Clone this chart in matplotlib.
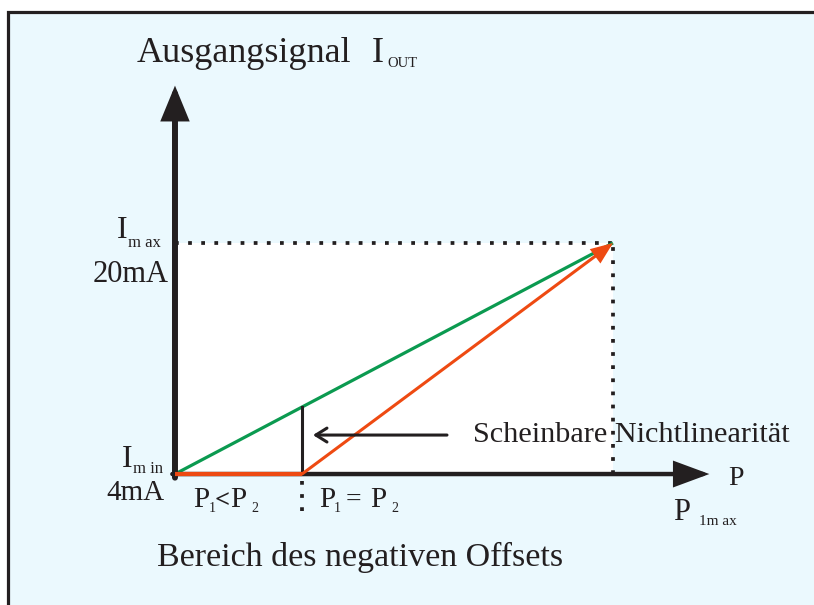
import matplotlib
matplotlib.use("Agg")
import matplotlib.pyplot as plt
from matplotlib.patches import Rectangle

plt.rcParams['font.family'] = ['Liberation Serif', 'DejaVu Serif']

# data (normalised pressure, current in mA)
P_min = 0.0
P_offset = 0.29      # start of the real measuring range (negative offset)
P_max = 1.0
I_min = 4.0
I_max = 20.0

green_p = [P_min, P_max]
green_i = [I_min, I_max]
orange_flat_p = [P_min, P_offset]
orange_flat_i = [I_min, I_min]

INK = '#231F20'
BG = '#EBF9FE'
GREEN = '#0B9A50'
ORANGE = '#EE4A12'

W, H = 814, 605
fig = plt.figure(figsize=(W / 100, H / 100), dpi=100)
fig.patch.set_facecolor('white')

def px(x, y):
    # pixel position -> figure fraction (for labels only)
    return x / W, 1 - y / H

# framed light background
fig.patches.append(Rectangle(px(8, 700), 2.0, (700 - 12) / H, transform=fig.transFigure,
                             facecolor=BG, edgecolor=INK, lw=2.3, zorder=-5))

ax = fig.add_axes([0, 0, 1, 1])
ax.set_zorder(1)
ax.patch.set_visible(False)
ax.set_axis_off()
# scale: P 0..1 -> 438 px, I 4..20 -> 231 px
ax.set_xlim(-0.3995, 1.4589)
ax.set_ylim(-5.07, 36.83)

# white area under the range
ax.add_patch(Rectangle((P_min, I_min), P_max - P_min, I_max - I_min,
                       facecolor='white', edgecolor='none', zorder=1))

# dotted guides
dot = (0, (1, 2.5))
ax.plot([P_min, P_max], [I_max, I_max], color=INK, lw=2.7, ls=dot, zorder=2)
ax.plot([P_max, P_max], [I_min, I_max], color=INK, lw=2.7, ls=dot, zorder=2)
ax.plot([P_offset, P_offset], [I_min - 0.45, I_min - 3.2], color=INK, lw=2.7, ls=dot, zorder=2)

# axes with arrows
ax.annotate('', xy=(0, 30.9), xytext=(0, I_min - 0.25),
            arrowprops=dict(arrowstyle='-|>,head_length=18,head_width=7.4', mutation_scale=1,
                            lw=4.3, color=INK, shrinkA=0, shrinkB=0, joinstyle='miter'), zorder=5)
ax.annotate('', xy=(1.22, I_min), xytext=(-0.006, I_min),
            arrowprops=dict(arrowstyle='-|>,head_length=20,head_width=7.4', mutation_scale=1,
                            lw=3.2, color=INK, shrinkA=0, shrinkB=0, joinstyle='miter'), zorder=5)

# characteristic lines
ax.plot(green_p, green_i, color=GREEN, lw=2.3, zorder=3, solid_capstyle='butt')
green_at_offset = I_min + (I_max - I_min) * (P_offset - P_min) / (P_max - P_min)
ax.plot([P_offset, P_offset], [I_min, green_at_offset], color=INK, lw=2.2, zorder=4)
ax.plot(orange_flat_p, orange_flat_i, color=ORANGE, lw=3.0, zorder=6, solid_capstyle='butt')
ax.annotate('', xy=(P_max, I_max), xytext=(P_offset, I_min),
            arrowprops=dict(arrowstyle='-|>,head_length=12,head_width=4.8', mutation_scale=1,
                            lw=2.2, color=ORANGE, shrinkA=0, shrinkB=0, joinstyle='miter'), zorder=6)

# arrow pointing at the apparent non-linearity
ax.annotate('', xy=(0.315, 6.7), xytext=(0.621, 6.7),
            arrowprops=dict(arrowstyle='->,head_length=8,head_width=5', mutation_scale=1,
                            lw=2.2, color=INK, shrinkA=0, shrinkB=0), zorder=6)

# labels
def label(x, y, s, size, **kw):
    fig.text(*px(x, y), s, fontsize=size, color=INK, ha='left', va='baseline', **kw)

label(137, 62, 'Ausgangsignal', 26)
label(372, 62, 'I', 26)
label(387, 67, 'OUT', 10.5)

label(117, 238, 'I', 23)
label(128, 247, 'm ax', 12)
label(93, 282, '20mA', 22)

label(122, 467, 'I', 23)
label(133, 473, 'm in', 12)
label(106, 500, '4mA', 21)

label(193, 507, 'P', 21)
label(209, 512, '1', 10)
label(215, 507, '<', 19, fontweight='bold')
label(230, 507, 'P', 21)
label(251, 512, '2', 10)

label(319, 507, 'P', 21)
label(334, 512, '1', 10)
label(346, 507, '=', 20)
label(370, 507, 'P', 21)
label(391, 512, '2', 10)

label(473, 442, 'Scheinbare Nichtlinearität', 21.8)
label(728, 485, 'P', 20)
label(673, 520, 'P', 22)
label(699, 525, '1m ax', 11)
label(157, 566, 'Bereich des negativen Offsets', 24.5)

fig.savefig('out.png', dpi=100, facecolor=fig.get_facecolor())
